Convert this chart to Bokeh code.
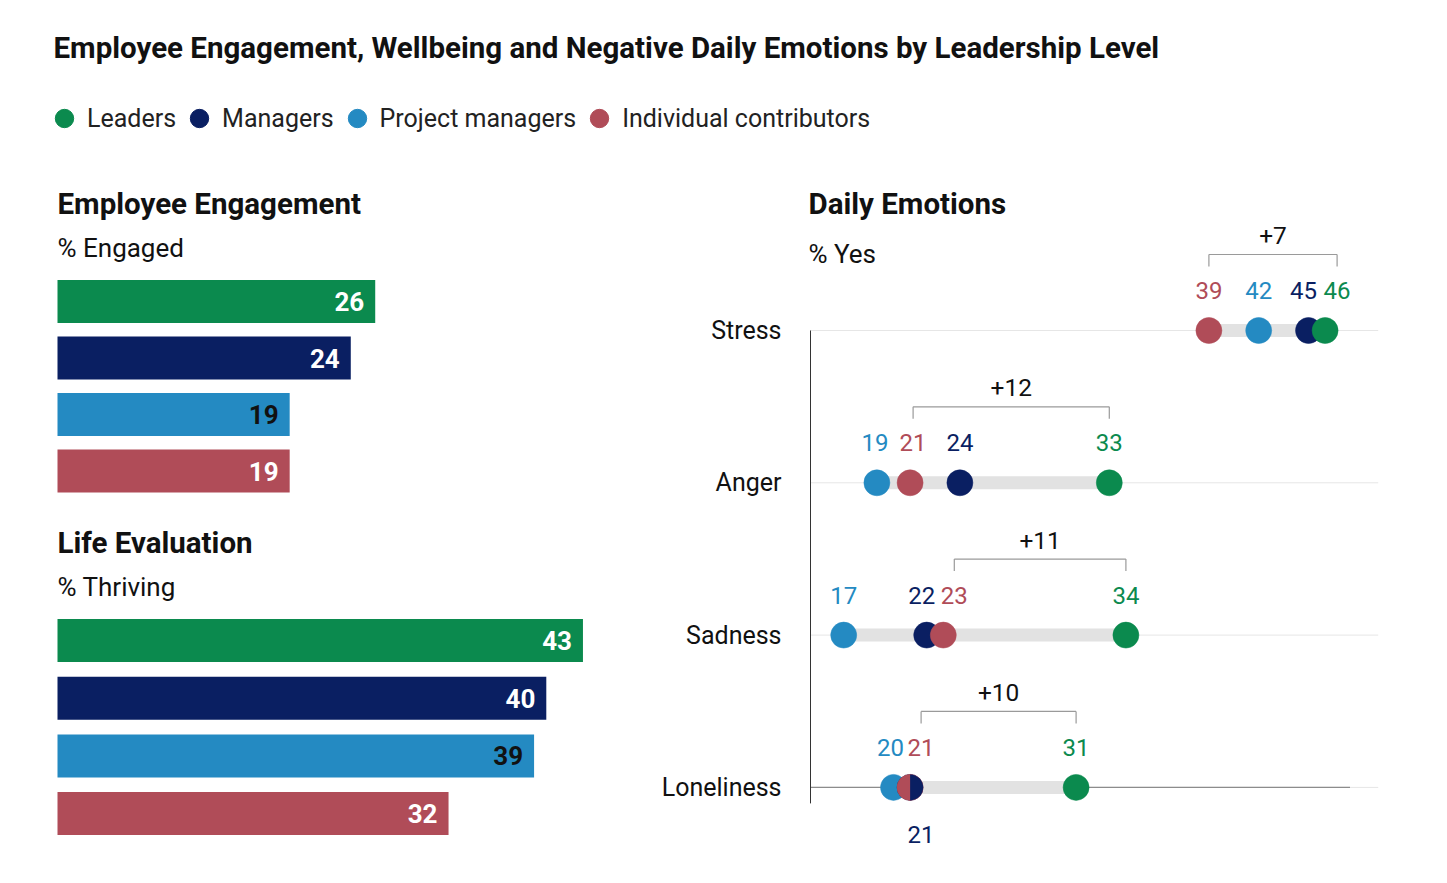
import math
from bokeh.plotting import figure
from bokeh.models import (Range1d, Label, Legend, LegendItem, ColumnDataSource)
from bokeh.layouts import column, row
from bokeh.embed import file_html
from bokeh.resources import INLINE
from bokeh.core.properties import value

# ---------------- data ----------------
TITLE = "Employee Engagement, Wellbeing and Negative Daily Emotions by Leadership Level"
GROUPS = ["Leaders", "Managers", "Project managers", "Individual contributors"]
GROUP_COLORS = ["#0B8A4E", "#0A1F62", "#248AC2", "#B04C58"]

ENGAGED = [26, 24, 19, 19]          # % Engaged
THRIVING = [43, 40, 39, 32]         # % Thriving

EMOTIONS = ["Stress", "Anger", "Sadness", "Loneliness"]
LEADERS = [46, 33, 34, 31]
MANAGERS = [45, 24, 22, 21]
PROJECT_MANAGERS = [42, 19, 17, 20]
INDIVIDUAL = [39, 21, 23, 21]

# ---------------- style ----------------
FONT = "Roboto"
TXT = "#111111"
W = 1431
HDR_H = 160
LEFT_W = 640
BAR_LEFT = 49
BAR_PXU = 12.22
BAR_H = 43
BAR_LABEL_COLORS = ["#FFFFFF", "#FFFFFF", "#111111", "#FFFFFF"]

R_W, R_H = W - LEFT_W, 692
AXIS_PX = 162                     # axis position inside the right figure
PXU = 16.6
AXIS_X = 15
X_START = AXIS_X - AXIS_PX / PXU
X_END = X_START + R_W / PXU
GRID_END = 49.2
BASE_END = 47.5
ROW0, ROW_STEP = 162, 152.3

# label nudges in px (to keep neighbouring numbers apart)
NUDGE = {
    "Leaders": [12, 0, 0, 0],
    "Managers": [-5, 0, -5, 11],
    "Project managers": [0, -2, 0, -3],
    "Individual contributors": [0, 3, 11, 11],
}


def bare(p):
    p.grid.visible = False
    p.outline_line_color = None
    p.background_fill_color = "white"
    p.border_fill_color = "white"
    return p


# ---------------- header (title + legend) ----------------
hdr = bare(figure(width=W, height=HDR_H, x_range=Range1d(0, W), y_range=Range1d(0, HDR_H),
                  x_axis_location=None, y_axis_location=None, toolbar_location=None,
                  output_backend="svg", min_border=0))
hdr.add_layout(Label(x=45, y=HDR_H - 39, text=TITLE, text_font=FONT, text_font_size="29.5px",
                     text_font_style="bold", text_color=TXT, text_baseline="middle"))
items = []
for g, c in zip(GROUPS, GROUP_COLORS):
    r = hdr.scatter(x=[0], y=[0], marker="circle", fill_color=c, line_color=c, visible=False)
    items.append(LegendItem(label=g, renderers=[r]))
legend = Legend(items=items, orientation="horizontal", location=(33, 25),
                glyph_width=46, glyph_height=50, label_standoff=0, spacing=0,
                padding=0, margin=0, border_line_color=None, background_fill_alpha=0,
                label_text_font=FONT, label_text_font_size="25px", label_text_color="#222222")
hdr.add_layout(legend, "center")


# ---------------- left bar panels ----------------
def bar_panel(title, subtitle, values, height, row0, step, title_y, sub_y):
    p = bare(figure(width=LEFT_W, height=height,
                    x_range=Range1d(-BAR_LEFT / BAR_PXU, (LEFT_W - BAR_LEFT) / BAR_PXU),
                    y_range=Range1d(height, 0),
                    x_axis_location=None, y_axis_location=None, toolbar_location=None,
                    output_backend="svg", min_border=0))
    ys = [row0 + i * step for i in range(len(values))]
    src = ColumnDataSource(dict(y=ys, v=values, c=GROUP_COLORS, t=[str(v) for v in values],
                                tc=BAR_LABEL_COLORS))
    p.hbar(y="y", left=0, right="v", height=BAR_H, fill_color="c", line_color=None, source=src)
    p.text(x="v", y="y", text="t", text_color="tc", x_offset=-11, text_align="right",
           text_baseline="middle", text_font=value(FONT), text_font_size="26px",
           text_font_style="bold", source=src)
    p.add_layout(Label(x=0, y=title_y, text=title, text_font=FONT, text_font_size="29.5px",
                       text_font_style="bold", text_color=TXT, text_baseline="middle"))
    p.add_layout(Label(x=0, y=sub_y, text=subtitle, text_font=FONT, text_font_size="26px",
                       text_color=TXT, text_baseline="middle"))
    return p


eng = bar_panel("Employee Engagement", "% Engaged", ENGAGED, 332, 133, 56.5, 35, 79)
life = bar_panel("Life Evaluation", "% Thriving", THRIVING, 350, 140, 57.7, 42, 86)

# ---------------- right dot panel ----------------
pr = bare(figure(width=R_W, height=R_H, x_range=Range1d(X_START, X_END),
                 y_range=Range1d(R_H, 0), x_axis_location=None, y_axis_location=None,
                 toolbar_location=None, output_backend="svg", min_border=0))

ys = [ROW0 + i * ROW_STEP for i in range(len(EMOTIONS))]
series = {"Leaders": LEADERS, "Managers": MANAGERS,
          "Project managers": PROJECT_MANAGERS, "Individual contributors": INDIVIDUAL}
color_of = dict(zip(GROUPS, GROUP_COLORS))

# grid lines
pr.segment(x0=[AXIS_X] * len(ys), x1=[GRID_END] * len(ys), y0=ys, y1=ys,
           line_color="#e6e6e6", line_width=1)
# baseline of last row
pr.segment(x0=[AXIS_X], x1=[BASE_END], y0=[ys[-1]], y1=[ys[-1]], line_color="#8c8c8c", line_width=1.2)
# vertical axis line
pr.segment(x0=[AXIS_X], x1=[AXIS_X], y0=[ys[0]], y1=[ys[-1] + 16], line_color="#333333", line_width=1)

# range bars
lo = [min(v) for v in zip(LEADERS, MANAGERS, PROJECT_MANAGERS, INDIVIDUAL)]
hi = [max(v) for v in zip(LEADERS, MANAGERS, PROJECT_MANAGERS, INDIVIDUAL)]
pr.segment(x0=lo, x1=hi, y0=ys, y1=ys, line_color="#e2e2e2", line_width=13, line_cap="butt")

# dots
for g in ["Project managers", "Managers", "Individual contributors", "Leaders"]:
    pr.scatter(x=series[g], y=ys, size=26, marker="circle", fill_color=color_of[g],
               line_color=color_of[g], line_width=0.5)

# ties between managers and individual contributors -> split dot
tie_idx = [i for i in range(len(ys)) if MANAGERS[i] == INDIVIDUAL[i]]
if tie_idx:
    tx = [MANAGERS[i] for i in tie_idx]
    ty = [ys[i] for i in tie_idx]
    pr.wedge(x=tx, y=ty, radius=13, radius_units="screen", start_angle=math.pi / 2,
             end_angle=3 * math.pi / 2, fill_color=color_of["Individual contributors"],
             line_color=None)
    pr.wedge(x=tx, y=ty, radius=13, radius_units="screen", start_angle=-math.pi / 2,
             end_angle=math.pi / 2, fill_color=color_of["Managers"], line_color=None)

# value labels
for g in GROUPS:
    vals = series[g]
    dy = []
    for i in range(len(ys)):
        below = (g == "Managers" and i in tie_idx)
        dy.append(ys[i] + (47 if below else -40))
    src = ColumnDataSource(dict(x=vals, y=dy, t=[str(v) for v in vals], dx=NUDGE[g]))
    pr.text(x="x", y="y", text="t", x_offset="dx", text_align="center", text_baseline="middle",
            text_color=color_of[g], text_font=value(FONT), text_font_size="24px", source=src)

# brackets leaders vs individual contributors
xl = [INDIVIDUAL[i] + NUDGE["Individual contributors"][i] / PXU for i in range(len(ys))]
xr = [LEADERS[i] + NUDGE["Leaders"][i] / PXU for i in range(len(ys))]
ytop = [y - 76 for y in ys]
ytick = [y - 64 for y in ys]
pr.segment(x0=xl, x1=xr, y0=ytop, y1=ytop, line_color="#9a9a9a", line_width=1.2)
pr.segment(x0=xl, x1=xl, y0=ytop, y1=ytick, line_color="#9a9a9a", line_width=1.2)
pr.segment(x0=xr, x1=xr, y0=ytop, y1=ytick, line_color="#9a9a9a", line_width=1.2)
diff_src = ColumnDataSource(dict(
    x=[(a + b) / 2 for a, b in zip(xl, xr)], y=[y - 95 for y in ys],
    t=["+%d" % (LEADERS[i] - INDIVIDUAL[i]) for i in range(len(ys))]))
pr.text(x="x", y="y", text="t", text_align="center", text_baseline="middle", text_color=TXT,
        text_font=value(FONT), text_font_size="24.5px", source=diff_src)

# row labels
row_src = ColumnDataSource(dict(x=[AXIS_X] * len(ys), y=ys, t=EMOTIONS))
pr.text(x="x", y="y", text="t", source=row_src, x_offset=-29, text_align="right",
        text_baseline="middle", text_font=value(FONT), text_font_size="25px", text_color=TXT)
pr.add_layout(Label(x=AXIS_X - 2 / PXU, y=35, text="Daily Emotions", text_font=FONT,
                    text_font_size="29.5px", text_font_style="bold", text_color=TXT,
                    text_baseline="middle"))
pr.add_layout(Label(x=AXIS_X - 2 / PXU, y=85, text="% Yes", text_font=FONT, text_font_size="26px",
                    text_color=TXT, text_baseline="middle"))

page = column(hdr, row(column(eng, life, spacing=0), pr, spacing=0), spacing=0,
              margin=(8, 0, 0, 8))
open("out.html", "w").write(file_html(page, INLINE, title="Leadership levels"))
